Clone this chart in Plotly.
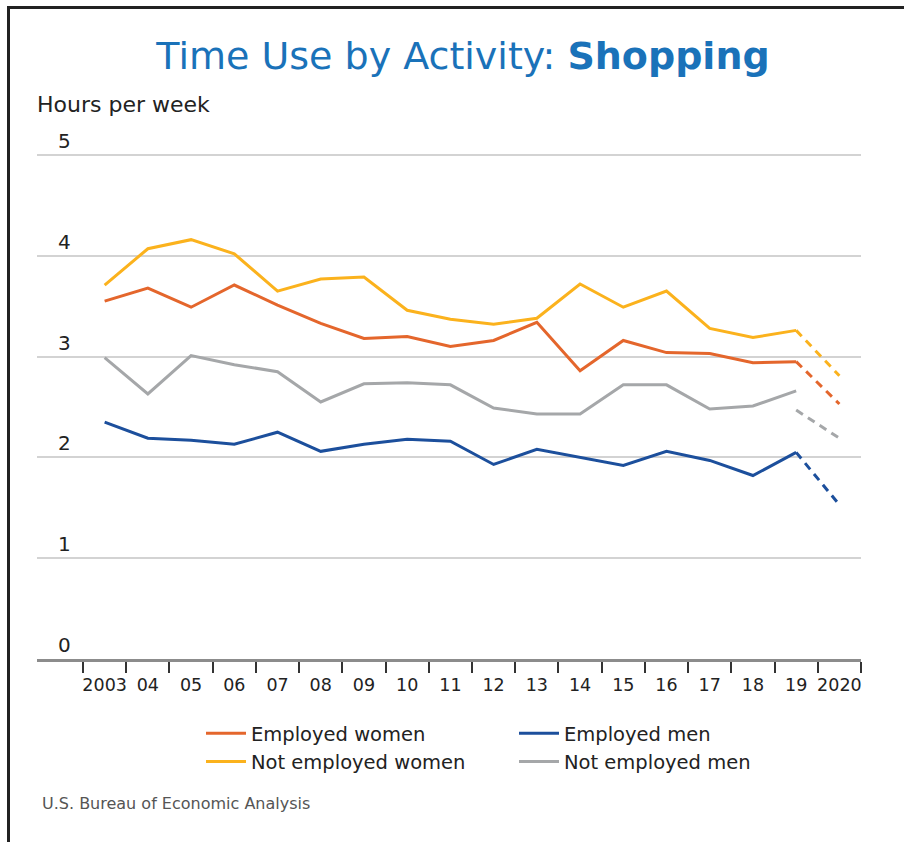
import plotly.graph_objects as go

# ---------------- data ----------------
years = [str(y) for y in range(2003, 2021)]
tick_text = ["2003", "04", "05", "06", "07", "08", "09", "10", "11", "12",
             "13", "14", "15", "16", "17", "18", "19", "2020"]

solid_years = years[:17]          # 2003-2019 (solid)
dash_years = ["2019", "2020"]     # 2019-2020 (dashed)

emp_women = [3.55, 3.68, 3.49, 3.71, 3.51, 3.33, 3.18, 3.20, 3.10, 3.16,
             3.34, 2.86, 3.16, 3.04, 3.03, 2.94, 2.95]
emp_women_dash = [2.95, 2.53]

emp_men = [2.35, 2.19, 2.17, 2.13, 2.25, 2.06, 2.13, 2.18, 2.16, 1.93,
           2.08, 2.00, 1.92, 2.06, 1.97, 1.82, 2.05]
emp_men_dash = [2.05, 1.53]

notemp_women = [3.71, 4.07, 4.16, 4.02, 3.65, 3.77, 3.79, 3.46, 3.37, 3.32,
                3.38, 3.72, 3.49, 3.65, 3.28, 3.19, 3.26]
notemp_women_dash = [3.26, 2.81]

notemp_men = [2.99, 2.63, 3.01, 2.92, 2.85, 2.55, 2.73, 2.74, 2.72, 2.49,
              2.43, 2.43, 2.72, 2.72, 2.48, 2.51, 2.66]
notemp_men_dash = [2.47, 2.19]

y_ticks = [0, 1, 2, 3, 4, 5]

# ---------------- styles ----------------
C_ORANGE = "#E4662C"
C_YELLOW = "#FBB21D"
C_BLUE = "#1C4F9C"
C_GRAY = "#A5A7A9"
FONT = "DejaVu Sans"

series = [
    ("Employed women", emp_women, emp_women_dash, C_ORANGE),
    ("Employed men", emp_men, emp_men_dash, C_BLUE),
    ("Not employed women", notemp_women, notemp_women_dash, C_YELLOW),
    ("Not employed men", notemp_men, notemp_men_dash, C_GRAY),
]

fig = go.Figure()
for name, solid, dash, col in series:
    fig.add_trace(go.Scatter(
        x=solid_years, y=solid, mode="lines", name=name,
        line=dict(color=col, width=3), hoverinfo="skip"))
for name, solid, dash, col in series:
    fig.add_trace(go.Scatter(
        x=dash_years, y=dash, mode="lines", name=name + " (2020)",
        showlegend=False,
        line=dict(color=col, width=3, dash="8px,6px"), hoverinfo="skip"))

W, H = 904, 842
ML, MR, MT, MB = 37, 43, 125, 183
PW = W - ML - MR
PH = H - MT - MB
Y_TOP = 5 + 30 / 100.8


def px_to_paper_y(py):
    return (H - MB - py) / PH


def px_to_paper_x(px):
    return (px - ML) / PW


fig.update_layout(
    width=W, height=H,
    margin=dict(l=ML, r=MR, t=MT, b=MB, pad=0),
    paper_bgcolor="white", plot_bgcolor="white",
    font=dict(family=FONT, color="#222222"),
    title=dict(
        text="Time Use by Activity: <b>Shopping</b>",
        font=dict(family=FONT, size=38, color="#1A72B9"),
        x=463 / W, xanchor="center", xref="container",
        y=1 - 56 / H, yanchor="middle", yref="container"),
    showlegend=True,
    legend=dict(
        orientation="h", x=px_to_paper_x(201), xanchor="left",
        y=px_to_paper_y(714), yanchor="top",
        font=dict(family=FONT, size=19.5, color="#222222"),
        entrywidth=258, entrywidthmode="pixels",
        itemwidth=40, bgcolor="rgba(0,0,0,0)", traceorder="normal"),
    xaxis=dict(
        type="category", categoryorder="array", categoryarray=years,
        range=[-1.565, 17.5],
        tickmode="array", tickvals=years, ticktext=tick_text,
        tickson="boundaries", ticks="outside", ticklen=11, tickwidth=2,
        tickcolor="#333333", tickangle=0, ticklabelstandoff=8,
        showline=True, linecolor="#8C8C8C", linewidth=3,
        showgrid=False, zeroline=False,
        tickfont=dict(family=FONT, size=17.5, color="#222222")),
    yaxis=dict(
        range=[0, Y_TOP], tickvals=y_ticks,
        showgrid=True, gridcolor="#D3D3D3", gridwidth=2,
        zeroline=False, showline=False, ticks="",
        ticklabelposition="inside top", ticklabelstandoff=18,
        tickfont=dict(family=FONT, size=20, color="#222222")),
)

fig.add_annotation(
    text="Hours per week", xref="paper", yref="paper",
    x=px_to_paper_x(35), y=px_to_paper_y(104), xanchor="left", yanchor="middle",
    showarrow=False, font=dict(family=FONT, size=22, color="#222222"))

fig.add_annotation(
    text="U.S. Bureau of Economic Analysis", xref="paper", yref="paper",
    x=px_to_paper_x(40), y=px_to_paper_y(803), xanchor="left", yanchor="middle",
    showarrow=False, font=dict(family=FONT, size=16, color="#555555"))

# frame lines (top and left) like the original graphic
fig.add_shape(type="line", xref="paper", yref="paper",
              x0=px_to_paper_x(7), x1=px_to_paper_x(904),
              y0=px_to_paper_y(7.5), y1=px_to_paper_y(7.5),
              line=dict(color="#222222", width=3))
fig.add_shape(type="line", xref="paper", yref="paper",
              x0=px_to_paper_x(8.5), x1=px_to_paper_x(8.5),
              y0=px_to_paper_y(6), y1=px_to_paper_y(842),
              line=dict(color="#222222", width=3))

fig.write_html("out.html",
               config={"displayModeBar": False},
               post_script="document.body.style.margin='0';")
